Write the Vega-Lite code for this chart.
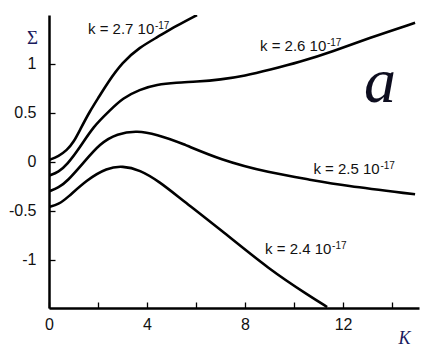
{
  "$schema": "https://vega.github.io/schema/vega-lite/v6.json",
  "width": 370,
  "height": 293,
  "autosize": "none",
  "padding": {"left": 49, "top": 15, "right": 22, "bottom": 43},
  "background": "white",
  "config": {
    "view": {"stroke": null},
    "axis": {
      "grid": false,
      "domainColor": "black",
      "domainWidth": 2.5,
      "tickColor": "black",
      "tickWidth": 1.3,
      "tickSize": -6,
      "labelFlush": false,
      "labelFont": "Liberation Sans",
      "labelFontSize": 16,
      "labelColor": "#111111",
      "titleColor": "#1a1a5e",
      "titleFont": "Liberation Serif",
      "titleFontWeight": "normal"
    }
  },
  "datasets": {
    "curves": [
      {"k": "2.7", "x": 0, "y": 0.02}, {"k": "2.7", "x": 0.4, "y": 0.06}, {"k": "2.7", "x": 0.73, "y": 0.12}, {"k": "2.7", "x": 1.0, "y": 0.2}, {"k": "2.7", "x": 1.27, "y": 0.33}, {"k": "2.7", "x": 1.67, "y": 0.52}, {"k": "2.7", "x": 2.08, "y": 0.68}, {"k": "2.7", "x": 2.37, "y": 0.8}, {"k": "2.7", "x": 3.0, "y": 1.02}, {"k": "2.7", "x": 3.7, "y": 1.17}, {"k": "2.7", "x": 4.4, "y": 1.27}, {"k": "2.7", "x": 5.2, "y": 1.39}, {"k": "2.7", "x": 6.04, "y": 1.5},
      {"k": "2.6", "x": 0, "y": -0.14}, {"k": "2.6", "x": 0.4, "y": -0.1}, {"k": "2.6", "x": 0.73, "y": -0.03}, {"k": "2.6", "x": 1.27, "y": 0.15}, {"k": "2.6", "x": 1.8, "y": 0.36}, {"k": "2.6", "x": 2.5, "y": 0.53}, {"k": "2.6", "x": 3.0, "y": 0.65}, {"k": "2.6", "x": 3.7, "y": 0.74}, {"k": "2.6", "x": 4.4, "y": 0.79}, {"k": "2.6", "x": 5.2, "y": 0.81}, {"k": "2.6", "x": 6.0, "y": 0.82}, {"k": "2.6", "x": 7.0, "y": 0.84}, {"k": "2.6", "x": 8.0, "y": 0.88}, {"k": "2.6", "x": 9.0, "y": 0.94}, {"k": "2.6", "x": 10.24, "y": 1.02}, {"k": "2.6", "x": 11.6, "y": 1.13}, {"k": "2.6", "x": 13.0, "y": 1.26}, {"k": "2.6", "x": 14.94, "y": 1.42},
      {"k": "2.5", "x": 0, "y": -0.3}, {"k": "2.5", "x": 0.4, "y": -0.26}, {"k": "2.5", "x": 0.73, "y": -0.2}, {"k": "2.5", "x": 1.4, "y": -0.01}, {"k": "2.5", "x": 2.08, "y": 0.19}, {"k": "2.5", "x": 2.78, "y": 0.29}, {"k": "2.5", "x": 3.6, "y": 0.32}, {"k": "2.5", "x": 4.4, "y": 0.28}, {"k": "2.5", "x": 5.35, "y": 0.2}, {"k": "2.5", "x": 7.0, "y": 0.02}, {"k": "2.5", "x": 9.0, "y": -0.11}, {"k": "2.5", "x": 10.65, "y": -0.18}, {"k": "2.5", "x": 12.0, "y": -0.24}, {"k": "2.5", "x": 14.94, "y": -0.33},
      {"k": "2.4", "x": 0, "y": -0.46}, {"k": "2.4", "x": 0.4, "y": -0.43}, {"k": "2.4", "x": 0.73, "y": -0.37}, {"k": "2.4", "x": 1.55, "y": -0.18}, {"k": "2.4", "x": 2.37, "y": -0.06}, {"k": "2.4", "x": 3.0, "y": -0.04}, {"k": "2.4", "x": 3.7, "y": -0.08}, {"k": "2.4", "x": 4.5, "y": -0.2}, {"k": "2.4", "x": 5.35, "y": -0.37}, {"k": "2.4", "x": 7.0, "y": -0.69}, {"k": "2.4", "x": 9.0, "y": -1.1}, {"k": "2.4", "x": 10.65, "y": -1.37}, {"k": "2.4", "x": 11.35, "y": -1.48}
    ],
    "labels": [
      {"label": "k = 2.7 10", "sup": "-17", "x": 1.59, "y": 1.31},
      {"label": "k = 2.6 10", "sup": "-17", "x": 8.61, "y": 1.13},
      {"label": "k = 2.5 10", "sup": "-17", "x": 10.79, "y": -0.12},
      {"label": "k = 2.4 10", "sup": "-17", "x": 8.82, "y": -0.94}
    ],
    "panel": [
      {"tag": "a", "x": 13.51, "y": 0.61}
    ]
  },
  "layer": [
    {
      "data": {"name": "curves"},
      "mark": {"type": "line", "color": "black", "strokeWidth": 2.6, "interpolate": "basis", "clip": true},
      "encoding": {
        "x": {
          "field": "x", "type": "quantitative",
          "scale": {"domain": [0, 15.1], "nice": false, "zero": false},
          "axis": {
            "values": [0, 2, 4, 6, 8, 10, 12, 14],
            "labelExpr": "datum.value % 4 == 0 ? toString(datum.value) : ''",
            "labelPadding": 14,
            "title": "K",
            "titleFontSize": 18,
            "titleFontStyle": "italic",
            "titleAngle": 0,
            "titleAlign": "center",
            "titleBaseline": "alphabetic",
            "titleX": 355,
            "titleY": 35
          }
        },
        "y": {
          "field": "y", "type": "quantitative",
          "scale": {"domain": [-1.49, 1.5], "nice": false, "zero": false},
          "axis": {
            "values": [-1, -0.5, 0, 0.5, 1],
            "labelExpr": "toString(datum.value)",
            "labelPadding": 19,
            "title": "Σ",
            "titleFontSize": 19,
            "titleAngle": 0,
            "titleAlign": "center",
            "titleBaseline": "alphabetic",
            "titleX": -17,
            "titleY": 28
          }
        },
        "detail": {"field": "k", "type": "nominal"}
      }
    },
    {
      "data": {"name": "labels"},
      "mark": {"type": "text", "align": "left", "baseline": "alphabetic", "font": "Liberation Sans", "fontSize": 15, "color": "#111111"},
      "encoding": {
        "x": {"field": "x", "type": "quantitative"},
        "y": {"field": "y", "type": "quantitative"},
        "text": {"field": "label"}
      }
    },
    {
      "data": {"name": "labels"},
      "mark": {"type": "text", "align": "left", "baseline": "alphabetic", "font": "Liberation Sans", "fontSize": 10, "color": "#111111", "dx": 67, "dy": -5},
      "encoding": {
        "x": {"field": "x", "type": "quantitative"},
        "y": {"field": "y", "type": "quantitative"},
        "text": {"field": "sup"}
      }
    },
    {
      "data": {"name": "panel"},
      "mark": {"type": "text", "align": "center", "baseline": "alphabetic", "font": "Liberation Serif", "fontStyle": "italic", "fontSize": 64, "color": "#0d0d1f"},
      "encoding": {
        "x": {"field": "x", "type": "quantitative"},
        "y": {"field": "y", "type": "quantitative"},
        "text": {"field": "tag"}
      }
    }
  ]
}
